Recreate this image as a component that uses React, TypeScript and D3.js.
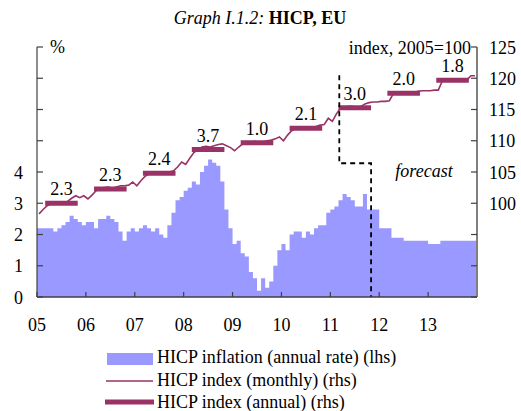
import React from "react";
import * as d3 from "d3";

// monthly data, Jan 2005 - Dec 2013
const years = ["05", "06", "07", "08", "09", "10", "11", "12", "13"];

const inflation = [
  2.2, 2.2, 2.2, 2.2, 2.1, 2.2, 2.3, 2.4, 2.6, 2.5, 2.4, 2.3,
  2.4, 2.4, 2.2, 2.5, 2.5, 2.6, 2.5, 2.4, 2.1, 1.8, 2.1, 2.2,
  2.1, 2.2, 2.3, 2.2, 2.1, 2.2, 2.0, 1.9, 2.3, 2.7, 3.1, 3.2,
  3.4, 3.5, 3.7, 3.6, 4.0, 4.2, 4.4, 4.3, 4.2, 3.7, 2.8, 2.2,
  1.7, 1.8, 1.4, 1.3, 0.8, 0.6, 0.2, 0.6, 0.3, 0.5, 1.0, 1.5,
  1.7, 1.5, 2.0, 2.1, 2.1, 1.9, 2.1, 2.0, 2.2, 2.3, 2.3, 2.7,
  2.8, 2.9, 3.1, 3.3, 3.2, 3.1, 2.9, 2.9, 3.3, 2.8, 2.8, 2.8,
  2.2, 2.2, 2.2, 1.9, 1.9, 1.9, 1.8, 1.8, 1.8, 1.8, 1.8, 1.8,
  1.7, 1.7, 1.7, 1.8, 1.8, 1.8, 1.8, 1.8, 1.8, 1.8, 1.8, 1.8,
];

const indexMonthly = [
  98.3, 99.0, 99.6, 100.0, 100.1, 100.2, 100.0, 100.3, 100.8, 101.2, 100.9, 101.2,
  100.7, 101.3, 102.0, 102.4, 102.5, 102.6, 102.4, 102.6, 102.8, 102.8, 102.9, 103.4,
  102.8, 103.6, 104.3, 104.7, 104.8, 104.9, 104.7, 104.9, 105.0, 105.2, 105.8, 106.6,
  106.2, 107.2, 108.1, 108.6, 109.0, 109.1, 109.0, 109.2, 109.4, 109.5, 109.2, 108.9,
  108.4, 109.0, 109.5, 109.7, 109.8, 109.9, 109.6, 109.8, 110.0, 110.1, 110.3, 110.6,
  110.0, 110.9, 111.6, 111.9, 112.0, 112.1, 111.8, 112.0, 112.3, 112.5, 112.6, 113.6,
  113.1, 114.3, 115.2, 115.4, 115.5, 115.5, 115.2, 115.5, 115.9, 116.1, 116.2, 116.2,
  116.3, 116.3, 116.4, 117.6, 117.6, 117.6, 117.6, 117.7, 117.7, 117.9, 118.0, 118.0,
  118.0, 118.1, 118.1, 119.6, 119.6, 119.6, 119.7, 119.7, 119.7, 119.7, 120.4, 120.4,
];

const indexAnnual = [100.0, 102.3, 104.8, 108.6, 109.7, 112.0, 115.3, 117.6, 119.7];
const annualLabels = ["2.3", "2.3", "2.4", "3.7", "1.0", "2.1", "3.0", "2.0", "1.8"];

const leftTicks = [0, 1, 2, 3, 4, 5, 6, 7, 8];
const leftLabels = ["0", "1", "2", "3", "4"];
const rightTicks = [85, 90, 95, 100, 105, 110, 115, 120, 125];
const rightLabels = ["100", "105", "110", "115", "120", "125"];

const FONT = "'Liberation Serif', 'Times New Roman', serif";
const BAR = "#9999ff";
const PLUM = "#993366";

export default function App() {
  const x = d3.scaleLinear().domain([0, 108]).range([37, 477]);
  const yL = d3.scaleLinear().domain([0, 8]).range([297, 47]);
  const yR = d3.scaleLinear().domain([85, 125]).range([297, 47]);

  const line = d3
    .line<number>()
    .x((_, i) => x(i + 0.5))
    .y((d) => yR(d));

  // bars as one stepped area so no seams show between months
  const stepPts: [number, number][] = [];
  inflation.forEach((v, i) => {
    stepPts.push([x(i), yL(v)]);
    stepPts.push([x(i + 1), yL(v)]);
  });
  const area = d3
    .area<[number, number]>()
    .x((d) => d[0])
    .y0(yL(0))
    .y1((d) => d[1]);

  const fIdx = 74.2; // index forecast marker
  const fRate = 82; // inflation forecast marker

  return (
    <svg
      width={521}
      height={411}
      style={{ position: "absolute", left: 0, top: 0, fontFamily: FONT }}
    >
      <rect width={521} height={411} fill="#fff" />
      <text x={260} y={24} textAnchor="middle" fontSize={18}>
        <tspan fontStyle="italic">Graph I.1.2: </tspan>
        <tspan fontWeight="bold">HICP, EU</tspan>
      </text>

      {/* bars */}
      <path d={area(stepPts) || ""} fill={BAR} />

      {/* monthly index */}
      <path d={line(indexMonthly) || ""} fill="none" stroke={PLUM} strokeWidth={1.6} />

      {/* annual index */}
      {indexAnnual.map((v, k) => (
        <g key={k}>
          <line
            x1={x(k * 12 + 2)}
            x2={x(k * 12 + 10)}
            y1={yR(v)}
            y2={yR(v)}
            stroke={PLUM}
            strokeWidth={5}
          />
          <text x={x(k * 12 + 6)} y={yR(v) - 8} textAnchor="middle" fontSize={18}>
            {annualLabels[k]}
          </text>
        </g>
      ))}

      {/* forecast markers */}
      <path
        d={`M${x(fIdx)},${yR(120.5)}V${yR(106.4)}H${x(fRate)}V${yL(0)}`}
        fill="none"
        stroke="#000"
        strokeWidth={1.8}
        strokeDasharray="5,4"
      />
      <text x={424} y={177} textAnchor="middle" fontSize={18} fontStyle="italic">
        forecast
      </text>

      {/* left axis */}
      <line x1={37} x2={37} y1={yL(8)} y2={yL(0)} stroke="#404040" strokeWidth={1.2} />
      {leftTicks.map((t) => (
        <line key={t} x1={37} x2={43} y1={yL(t)} y2={yL(t)} stroke="#404040" strokeWidth={1.2} />
      ))}
      {leftLabels.map((t) => (
        <text key={t} x={23} y={yL(+t) + 6.5} textAnchor="end" fontSize={18}>
          {t}
        </text>
      ))}
      <text x={50} y={53} fontSize={18}>%</text>

      {/* right axis */}
      <line x1={477} x2={477} y1={yR(125)} y2={yR(85)} stroke="#808080" strokeWidth={2} />
      {rightTicks.map((t) => (
        <line key={t} x1={471} x2={477} y1={yR(t)} y2={yR(t)} stroke="#404040" strokeWidth={1.2} />
      ))}
      {rightLabels.map((t) => (
        <text key={t} x={489} y={yR(+t) + 6.5} fontSize={18}>
          {t}
        </text>
      ))}
      <text x={471} y={54} textAnchor="end" fontSize={18}>index, 2005=100</text>

      {/* x axis */}
      <line x1={37} x2={477} y1={297} y2={297} stroke="#404040" strokeWidth={1.5} />
      {years.map((yr, k) => (
        <g key={yr}>
          <line x1={x(k * 12)} x2={x(k * 12)} y1={297} y2={292} stroke="#404040" strokeWidth={1.2} />
          <text x={x(k * 12)} y={331} textAnchor="middle" fontSize={18}>
            {yr}
          </text>
        </g>
      ))}

      {/* legend */}
      <rect x={107} y={353} width={46} height={12} fill={BAR} />
      <text x={157} y={363} fontSize={18}>HICP inflation (annual rate) (lhs)</text>
      <line x1={106} x2={153} y1={381} y2={381} stroke={PLUM} strokeWidth={1.6} />
      <text x={157} y={386} fontSize={18}>HICP index (monthly) (rhs)</text>
      <line x1={105} x2={154} y1={402} y2={402} stroke={PLUM} strokeWidth={5} />
      <text x={157} y={408} fontSize={18}>HICP index (annual) (rhs)</text>
    </svg>
  );
}
